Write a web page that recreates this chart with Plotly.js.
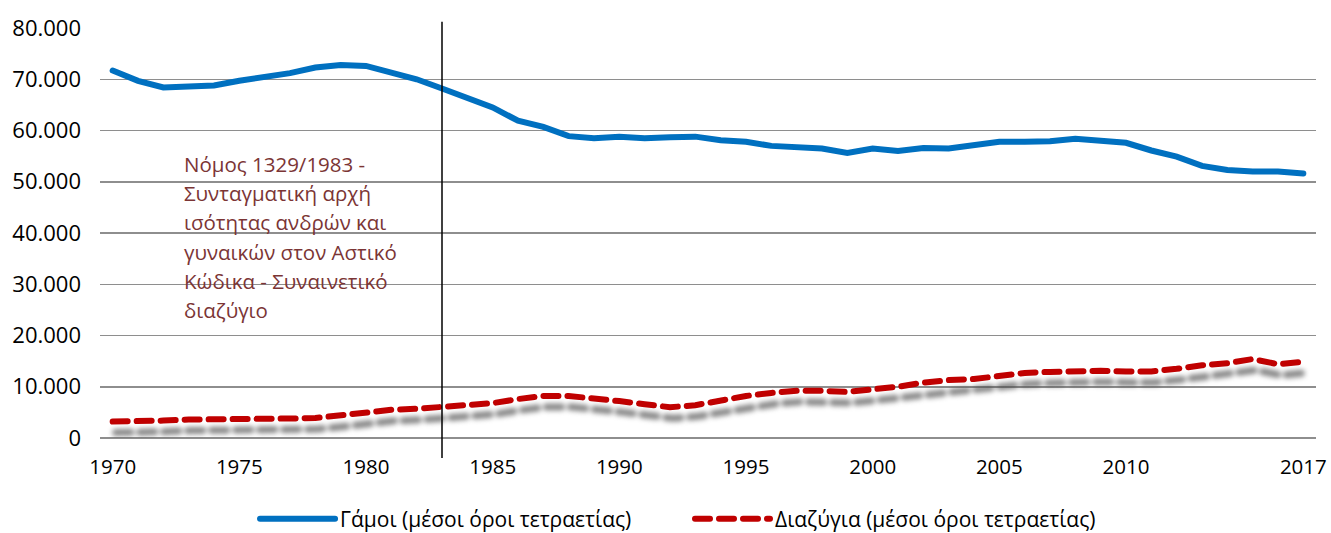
<!DOCTYPE html>
<html>
<head>
<meta charset="utf-8">
<script src="https://cdn.plot.ly/plotly-3.0.1.min.js"></script>
<style>html,body{margin:0;padding:0;background:#fff;}#chart{width:1331px;height:533px;}</style>
</head>
<body>
<div id="chart"></div>
<script>
const years = [];
for (let y = 1970; y <= 2017; y++) years.push(y);

const marriages = [71700, 69700, 68400, 68700, 68800, 69700, 70500, 71200, 72300, 72800,
  72600, 71300, 70000, 68200, 66500, 64500, 61900, 60700, 58900, 58500,
  58800, 58500, 58700, 58800, 58100, 57800, 57000, 56800, 56500, 55600,
  56500, 56000, 56600, 56500, 57200, 57800, 57800, 57900, 58400, 57900,
  57600, 56100, 54900, 53100, 52300, 52000, 52000, 51600];

const divorces = [3200, 3200, 3400, 3600, 3600, 3600, 3700, 3800, 3900, 4400,
  5100, 5500, 5700, 6000, 6400, 6800, 7600, 8200, 8200, 7800,
  7200, 6600, 6000, 6400, 7300, 8200, 8800, 9200, 9200, 9000,
  9500, 10000, 10800, 11300, 11500, 12200, 12700, 12900, 13100, 13100,
  13000, 13000, 13500, 14200, 14600, 15400, 14400, 14900];

const seriesNames = ['Γάμοι (μέσοι όροι τετραετίας)', 'Διαζύγια (μέσοι όροι τετραετίας)'];
const xTickVals = [1970, 1975, 1980, 1985, 1990, 1995, 2000, 2005, 2010, 2017];
const xTickText = ['1970', '1975', '1980', '1985', '1990', '1995', '2000', '2005', '2010', '2017'];
const yTickVals = [0, 10000, 20000, 30000, 40000, 50000, 60000, 70000, 80000];
const lawYear = 1983;
const noteLines = ['Νόμος 1329/1983 -', 'Συνταγματική αρχή', 'ισότητας ανδρών και',
  'γυναικών στον Αστικό', 'Κώδικα - Συναινετικό', 'διαζύγιο'];

const FONT = '"Open Sans", "Noto Sans", sans-serif';
const shadowShift = 2150;

const traces = [
  {
    x: years, y: divorces, type: 'scatter', mode: 'lines',
    xaxis: 'x2', yaxis: 'y2', showlegend: false, hoverinfo: 'skip',
    line: {color: 'rgba(70,70,70,0.65)', width: 7, dash: '15px,9px'}
  },
  {
    x: years, y: divorces, type: 'scatter', mode: 'lines', name: seriesNames[1],
    legend: 'legend2',
    line: {color: '#C00000', width: 6, dash: '15px,9px'}
  },
  {
    x: years, y: marriages, type: 'scatter', mode: 'lines', name: seriesNames[0],
    legend: 'legend',
    line: {color: '#0070C0', width: 6}
  }
];

const annotations = noteLines.map((t, i) => ({
  x: 1972.75, y: 56600 - i * 5700, xref: 'x', yref: 'y',
  xanchor: 'left', yanchor: 'top', showarrow: false, align: 'left',
  text: t, font: {family: FONT, size: 20.5, color: '#7B3535'}
}));

const legendFont = {family: FONT, size: 21, color: '#000'};

const layout = {
  width: 1331, height: 533,
  margin: {l: 100, r: 15, t: 28, b: 95, autoexpand: false},
  paper_bgcolor: '#fff', plot_bgcolor: '#fff',
  separators: ',.',
  font: {family: FONT, size: 20, color: '#000'},
  showlegend: true,
  legend: {
    orientation: 'h', x: 0.1275, xanchor: 'left', y: -0.1976, yanchor: 'middle',
    font: legendFont, itemwidth: 75, bgcolor: 'rgba(0,0,0,0)', maxheight: 200
  },
  legend2: {
    orientation: 'h', x: 0.4852, xanchor: 'left', y: -0.1976, yanchor: 'middle',
    font: legendFont, itemwidth: 75, bgcolor: 'rgba(0,0,0,0)', maxheight: 200
  },
  xaxis: {
    range: [1969.5, 2017.5], tickmode: 'array', tickvals: xTickVals, ticktext: xTickText,
    showgrid: false, zeroline: false, showline: false, ticks: '',
    ticklabelstandoff: 14, tickfont: {family: FONT, size: 20.5}
  },
  xaxis2: {
    overlaying: 'x', range: [1969.5 - 0.12, 2017.5 - 0.12], visible: false
  },
  yaxis: {
    range: [0, 80000], tickmode: 'array', tickvals: yTickVals, tickformat: ',d',
    showgrid: true, gridcolor: '#8e8e8e', gridwidth: 1.5,
    zeroline: true, zerolinecolor: '#8e8e8e', zerolinewidth: 1.5,
    showline: false, ticks: '', ticklabelstandoff: 18,
    tickfont: {family: FONT, size: 22}
  },
  yaxis2: {
    overlaying: 'y', range: [shadowShift, 80000 + shadowShift], visible: false
  },
  shapes: [{
    type: 'line', xref: 'x', yref: 'paper', x0: lawYear, x1: lawYear,
    y0: -0.049, y1: 1.015, line: {color: '#000', width: 1.5}, layer: 'above'
  }],
  annotations: annotations
};

Plotly.newPlot('chart', traces, layout, {staticPlot: true}).then(() => {
  document.querySelectorAll('.scatterlayer .trace path.js-line').forEach(p => {
    p.style.strokeLinecap = 'round';
  });
  document.querySelectorAll('.legendlines path').forEach(p => {
    p.style.strokeLinecap = 'round';
  });
  const tr = document.querySelectorAll('.scatterlayer .trace');
  tr.forEach(t => {
    const p = t.querySelector('path.js-line');
    if (p && p.style.stroke && p.style.stroke.indexOf('70, 70, 70') >= 0) {
      p.style.filter = 'blur(2.5px)';
    }
  });
});
</script>
</body>
</html>
